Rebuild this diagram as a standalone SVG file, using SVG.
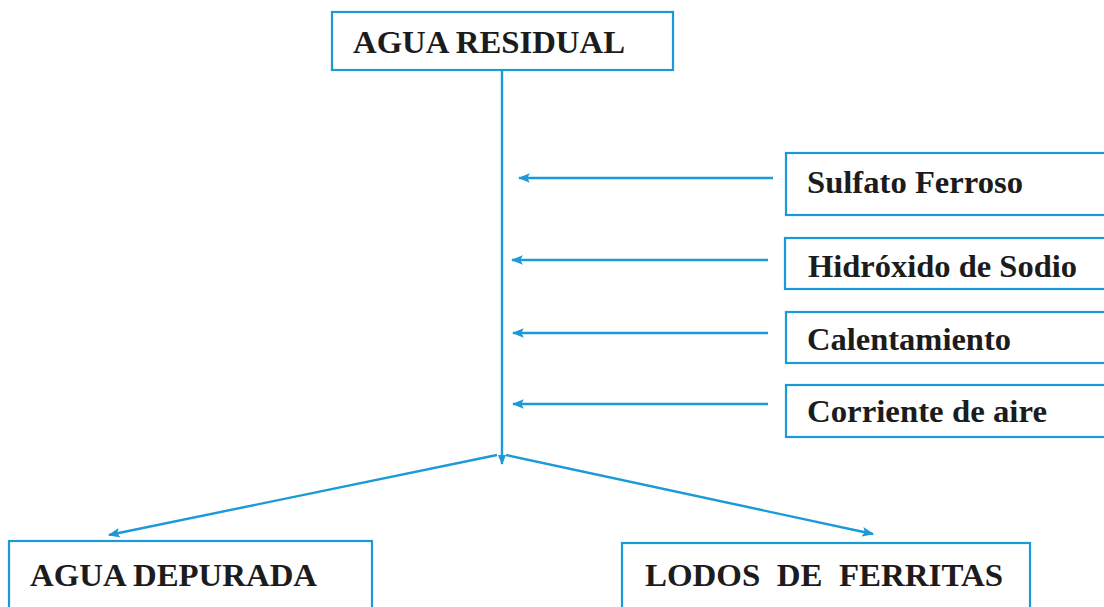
<svg xmlns="http://www.w3.org/2000/svg" width="1104" height="607" viewBox="0 0 1104 607">
<defs>
<style>
.box{fill:none;stroke:#1b9ad8;stroke-width:2.2}
.lbl{font-family:"Liberation Serif","Times New Roman",serif;font-weight:bold;font-size:32px;fill:#1c1c1c}
.con{fill:none;stroke:#1b9ad8;stroke-width:2.4}
</style>
<marker id="ah" viewBox="0 0 10 10" refX="9" refY="5" markerWidth="10" markerHeight="10" markerUnits="userSpaceOnUse" orient="auto">
<path d="M0,1 L10,5 L0,9 z" fill="#1b9ad8"/>
</marker>
<marker id="ah2" viewBox="0 0 10 10" refX="9" refY="5" markerWidth="12" markerHeight="12" markerUnits="userSpaceOnUse" orient="auto">
<path d="M0,1 L10,5 L0,9 L2,5 z" fill="#1b9ad8"/>
</marker>
</defs>
<rect width="1104" height="607" fill="#ffffff"/>
<g id="connectors">
<line class="con" x1="502" y1="70" x2="502" y2="464" marker-end="url(#ah)"/>
<line class="con" x1="773" y1="178" x2="519" y2="178" marker-end="url(#ah2)"/>
<line class="con" x1="768" y1="260" x2="512" y2="260" marker-end="url(#ah2)"/>
<line class="con" x1="768" y1="333" x2="513" y2="333" marker-end="url(#ah2)"/>
<line class="con" x1="768" y1="404" x2="513" y2="404" marker-end="url(#ah2)"/>
<line class="con" x1="497" y1="455" x2="109" y2="535" marker-end="url(#ah2)"/>
<line class="con" x1="506" y1="455" x2="873" y2="534" marker-end="url(#ah2)"/>
</g>
<g id="agua-residual">
<rect class="box" x="332" y="12" width="341" height="58"/>
<text class="lbl" x="353" y="53" textLength="272" lengthAdjust="spacingAndGlyphs">AGUA RESIDUAL</text>
</g>
<g id="sulfato-ferroso">
<rect class="box" x="786" y="153" width="330" height="62"/>
<text class="lbl" x="807" y="193" textLength="216" lengthAdjust="spacingAndGlyphs">Sulfato Ferroso</text>
</g>
<g id="hidroxido-de-sodio">
<rect class="box" x="785" y="238" width="330" height="51"/>
<text class="lbl" x="808" y="277" textLength="269" lengthAdjust="spacingAndGlyphs">Hidróxido de Sodio</text>
</g>
<g id="calentamiento">
<rect class="box" x="786" y="312" width="330" height="51"/>
<text class="lbl" x="807" y="350" textLength="204" lengthAdjust="spacingAndGlyphs">Calentamiento</text>
</g>
<g id="corriente-de-aire">
<rect class="box" x="786" y="385" width="330" height="52"/>
<text class="lbl" x="807" y="422" textLength="240" lengthAdjust="spacingAndGlyphs">Corriente de aire</text>
</g>
<g id="agua-depurada">
<rect class="box" x="9" y="541" width="363" height="80"/>
<text class="lbl" x="30" y="586" textLength="287" lengthAdjust="spacingAndGlyphs">AGUA DEPURADA</text>
</g>
<g id="lodos-de-ferritas">
<rect class="box" x="622" y="543" width="408" height="80"/>
<text class="lbl" x="645" y="586" textLength="358" lengthAdjust="spacingAndGlyphs" xml:space="preserve">LODOS  DE  FERRITAS</text>
</g>
</svg>
